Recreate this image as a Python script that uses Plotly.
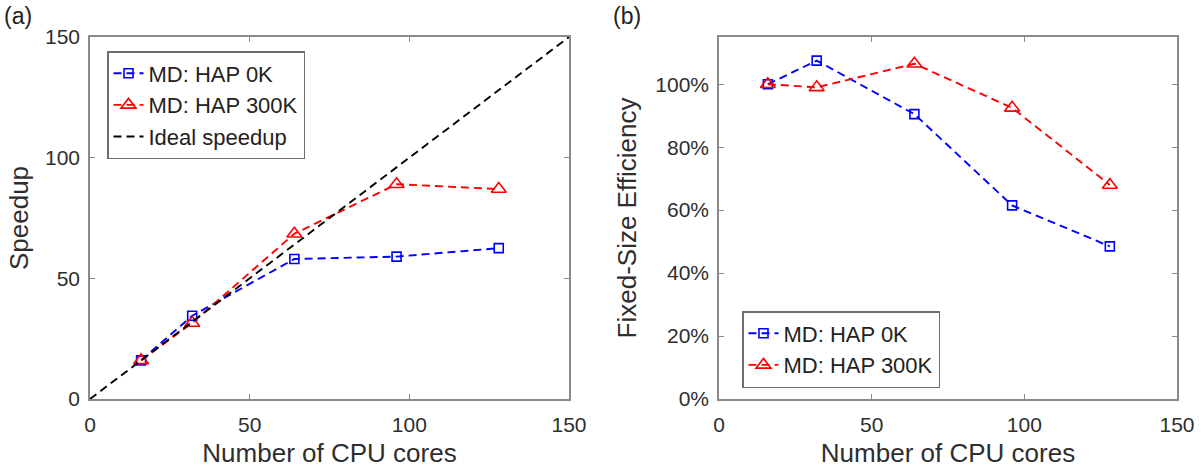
import plotly.graph_objects as go

cores = [16, 32, 64, 96, 128]
speedup_0k = [16, 34.5, 58, 59, 62.5]
speedup_300k = [16, 31.5, 68.5, 89, 87]
ideal_x = [0, 150]
ideal_y = [0, 150]
eff_0k = [1.00, 1.075, 0.905, 0.615, 0.485]
eff_300k = [1.00, 0.99, 1.065, 0.925, 0.68]
eff_ticks = [0, 0.2, 0.4, 0.6, 0.8, 1.0]
eff_ticklabels = ["0%", "20%", "40%", "60%", "80%", "100%"]

W, H = 1204, 474
FONT = "Liberation Sans, Arial, sans-serif"
AX = "#8a8a8a"
TXT = "#2e2e2e"
DASH = "8px,5px"

fig = go.Figure()

sq = dict(symbol="square-open", size=9, color="#0000ff", line=dict(width=1.6, color="#0000ff"))
tri = dict(symbol="triangle-up-open", size=13, color="#ff0000", line=dict(width=1.6, color="#ff0000"))

fig.add_trace(go.Scatter(x=cores, y=speedup_0k, mode="lines+markers", name="MD: HAP 0K",
                         line=dict(color="#0000ff", dash=DASH, width=1.9), marker=sq,
                         xaxis="x", yaxis="y", legend="legend"))
fig.add_trace(go.Scatter(x=cores, y=speedup_300k, mode="lines+markers", name="MD: HAP 300K",
                         line=dict(color="#ff0000", dash=DASH, width=1.9), marker=tri,
                         xaxis="x", yaxis="y", legend="legend"))
fig.add_trace(go.Scatter(x=ideal_x, y=ideal_y, mode="lines", name="Ideal speedup",
                         line=dict(color="#000000", dash=DASH, width=1.9),
                         xaxis="x", yaxis="y", legend="legend"))

fig.add_trace(go.Scatter(x=cores, y=eff_0k, mode="lines+markers", name="MD: HAP 0K",
                         line=dict(color="#0000ff", dash=DASH, width=1.9), marker=sq,
                         xaxis="x2", yaxis="y2", legend="legend2"))
fig.add_trace(go.Scatter(x=cores, y=eff_300k, mode="lines+markers", name="MD: HAP 300K",
                         line=dict(color="#ff0000", dash=DASH, width=1.9), marker=tri,
                         xaxis="x2", yaxis="y2", legend="legend2"))

ydom = [(H - 399) / H, (H - 37) / H]
axcommon = dict(showline=True, linecolor=AX, linewidth=1.5, mirror="allticks", ticks="inside",
                ticklen=5, tickcolor=AX, showgrid=False, zeroline=False, automargin=False,
                tickfont=dict(family=FONT, size=21, color=TXT))
xt = dict(family=FONT, size=26, color=TXT)
yt = dict(family=FONT, size=26, color=TXT)

fig.update_layout(
    width=W, height=H, margin=dict(l=0, r=0, t=0, b=0),
    paper_bgcolor="white", plot_bgcolor="white",
    font=dict(family=FONT, color=TXT),
    xaxis=dict(domain=[90 / W, 569 / W], range=[0, 150], tickvals=[0, 50, 100, 150],
               ticklabelstandoff=6,
               title=dict(text="Number of CPU cores", standoff=9, font=xt), anchor="y", **axcommon),
    yaxis=dict(domain=ydom, range=[0, 150], tickvals=[0, 50, 100, 150],
               ticklabelstandoff=4,
               title=dict(text="Speedup", standoff=9, font=yt), anchor="x", **axcommon),
    xaxis2=dict(domain=[719 / W, 1177 / W], range=[0, 150], tickvals=[0, 50, 100, 150],
                ticklabelstandoff=6,
                title=dict(text="Number of CPU cores", standoff=9, font=xt), anchor="y2", **axcommon),
    yaxis2=dict(domain=ydom, range=[0, 1.15], tickvals=eff_ticks, ticktext=eff_ticklabels,
                ticklabelstandoff=4,
                title=dict(text="Fixed-Size Efficiency", standoff=11, font=yt), anchor="x2", **axcommon),
    legend=dict(x=107 / W, y=1 - 51 / H, xanchor="left", yanchor="top",
                bgcolor="white", bordercolor="#6e6e6e", borderwidth=1.5,
                font=dict(family=FONT, size=22, color="#222222"), tracegroupgap=0),
    legend2=dict(x=742 / W, y=1 - 311 / H, xanchor="left", yanchor="top",
                 bgcolor="white", bordercolor="#6e6e6e", borderwidth=1.5,
                 font=dict(family=FONT, size=22, color="#222222"), tracegroupgap=0),
    annotations=[
        dict(text="(a)", x=2 / W, y=1 - 1 / H, xref="paper", yref="paper", xanchor="left",
             yanchor="top", showarrow=False, font=dict(family=FONT, size=23, color="#222222")),
        dict(text="(b)", x=611 / W, y=1 - 1 / H, xref="paper", yref="paper", xanchor="left",
             yanchor="top", showarrow=False, font=dict(family=FONT, size=23, color="#222222")),
    ],
)

fig.write_html("out.html", config={"displayModeBar": False},
               post_script="document.body.style.margin='0px';")
